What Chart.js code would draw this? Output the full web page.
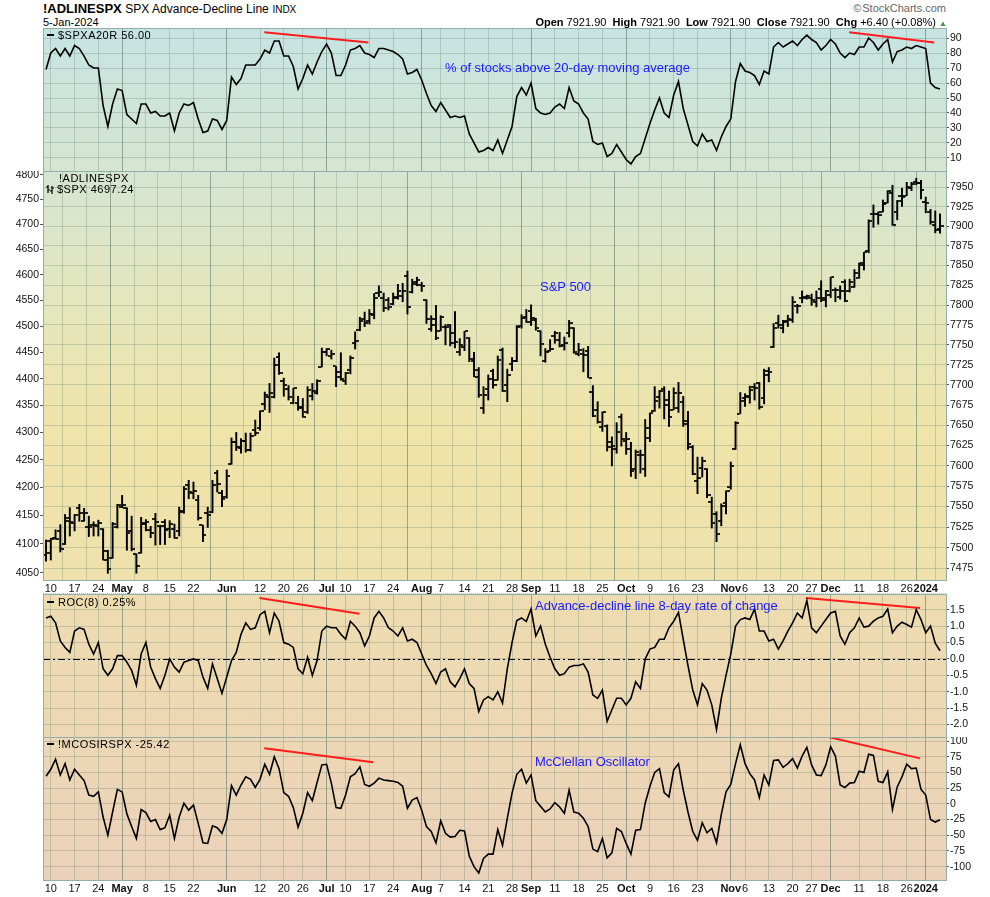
<!DOCTYPE html>
<html>
<head>
<meta charset="utf-8">
<title>!ADLINESPX</title>
<script src="https://cdn.jsdelivr.net/npm/chart.js@4.4.1/dist/chart.umd.min.js"></script>
<style>
  body { margin: 0; background: #fff; font-family: 'Liberation Sans', Arial, sans-serif; color: #000; }
  #page { position: relative; width: 990px; height: 897px; overflow: hidden; }
  .abs { position: absolute; white-space: nowrap; }
  #bg { left: 43px; top: 28px; width: 903px; height: 852px;
        background: linear-gradient(to bottom, #c6e4e2 0px, #d6e5d1 143px, #e4e6bd 272px, #efe4a9 400px,
                    #efe1ac 552px, #eedcb0 566px, #edd7b4 709px, #ebd1ba 852px); }
  #strip { left: 43px; top: 580px; width: 903px; height: 14px; background: #fff;
           border-top: 1px dotted #b9c6c6; border-bottom: 1px dotted #b9c6c6; box-sizing: border-box; }
  canvas { position: absolute; left: 0; }
  .panel { position: absolute; left: 43px; width: 904px; border: 1px solid #93adac; box-sizing: border-box; }
  .note { color: #1a1aff; font-size: 13px; line-height: 15px; }
  .leg { font-size: 11px; line-height: 12px; letter-spacing: 0.5px; }
  .dash { display: inline-block; width: 7px; height: 2px; background: #000; vertical-align: 3px; margin-right: 4px; }
</style>
</head>
<body>
<div id="page">
  <div id="bg" class="abs"></div>
  <div id="strip" class="abs"></div>

  <canvas id="cA" width="990" height="143" style="top:28px"></canvas>
  <canvas id="cB" width="990" height="424" style="top:171px"></canvas>
  <canvas id="cC" width="990" height="143" style="top:594px"></canvas>
  <canvas id="cD" width="990" height="160" style="top:737px"></canvas>

  <div class="panel" style="top:28px;height:144px"></div>
  <div class="panel" style="top:171px;height:410px"></div>
  <div class="panel" style="top:594px;height:144px"></div>
  <div class="panel" style="top:737px;height:144px"></div>

  <!-- header -->
  <div class="abs" style="left:43px;top:1px;font-size:13px;line-height:15px;font-weight:bold">!ADLINESPX
    <span style="font-weight:normal;font-size:12px">SPX Advance-Decline Line</span>
    <span style="font-weight:normal;font-size:10px">INDX</span></div>
  <div class="abs" style="left:43px;top:16px;font-size:11px;line-height:12px">5-Jan-2024</div>
  <div class="abs" style="right:44px;top:2px;font-size:11px;line-height:12px;color:#666">&#169;&#8202;StockCharts.com</div>
  <div class="abs" style="right:43px;top:16px;font-size:11px;line-height:12px">
    <b>Open</b> 7921.90&nbsp; <b>High</b> 7921.90&nbsp; <b>Low</b> 7921.90&nbsp; <b>Close</b> 7921.90&nbsp; <b>Chg</b> +6.40 (+0.08%)
    <span style="color:#3a9a3a;font-size:8px">&#9650;</span></div>

  <!-- panel legends -->
  <div class="abs leg" style="left:47px;top:29px"><span class="dash"></span>$SPXA20R 56.00</div>
  <div class="abs leg" style="left:59px;top:172px">!ADLINESPX</div>
  <div class="abs leg" style="left:46px;top:183px"><svg width="9" height="10" style="vertical-align:-1px;margin-right:2px"><path d="M2 1V9M0 3H2M2 6H4M6 2V10M4 7H6M6 4H8" stroke="#000" stroke-width="1.2" fill="none"/></svg>$SPX 4697.24</div>
  <div class="abs leg" style="left:47px;top:596px"><span class="dash"></span>ROC(8) 0.25%</div>
  <div class="abs leg" style="left:47px;top:738px"><span class="dash"></span>!MCOSIRSPX -25.42</div>

  <!-- annotations -->
  <div class="abs note" style="left:445px;top:60px">% of stocks above 20-day moving average</div>
  <div class="abs note" style="left:540px;top:279px">S&amp;P 500</div>
  <div class="abs note" style="left:535px;top:598px">Advance-decline line 8-day rate of change</div>
  <div class="abs note" style="left:535px;top:754px">McClellan Oscillator</div>
</div>

<script>
// trading days, Apr 6 2023 .. Jan 5 2024
const tradingMonths = [
  [4,  [6,10,11,12,13,14,17,18,19,20,21,24,25,26,27,28]],
  [5,  [1,2,3,4,5,8,9,10,11,12,15,16,17,18,19,22,23,24,25,26,30,31]],
  [6,  [1,2,5,6,7,8,9,12,13,14,15,16,20,21,22,23,26,27,28,29,30]],
  [7,  [3,5,6,7,10,11,12,13,14,17,18,19,20,21,24,25,26,27,28,31]],
  [8,  [1,2,3,4,7,8,9,10,11,14,15,16,17,18,21,22,23,24,25,28,29,30,31]],
  [9,  [1,5,6,7,8,11,12,13,14,15,18,19,20,21,22,25,26,27,28,29]],
  [10, [2,3,4,5,6,9,10,11,12,13,16,17,18,19,20,23,24,25,26,27,30,31]],
  [11, [1,2,3,6,7,8,9,10,13,14,15,16,17,20,21,22,24,27,28,29,30]],
  [12, [1,4,5,6,7,8,11,12,13,14,15,18,19,20,21,22,26,27,28,29]],
  [1,  [2,3,4,5]]
];
const days = tradingMonths.flatMap(([m, ds]) => ds.map(d => m + '/' + d));

const xTickDates = ['4/10','4/17','4/24','5/1','5/8','5/15','5/22','6/1','6/12','6/20','6/26','7/3','7/10','7/17',
  '7/24','8/1','8/7','8/14','8/21','8/28','9/1','9/11','9/18','9/25','10/2','10/9','10/16','10/23','11/1','11/6',
  '11/13','11/20','11/27','12/1','12/11','12/18','12/26','1/2'];
const xTickLabels = ['10','17','24','May','8','15','22','Jun','12','20','26','Jul','10','17',
  '24','Aug','7','14','21','28','Sep','11','18','25','Oct','9','16','23','Nov','6',
  '13','20','27','Dec','11','18','26','2024'];

// $SPXA20R - % of stocks above 20-day MA
const a20 = [69,80,83,78,83,78,85,83,78,72, 70,70,45,31,46,56,55,39,36,33,
  46,46,40,41,38,38,40,28,40,46, 45,47,36,27,28,36,35,29,35,64,
  59,63,72,72,72,76,82,80,88,88, 78,78,71,56,63,72,66,74,81,86,
  80,65,65,72,82,83,85,80,79,77, 83,83,82,81,79,76,66,67,69,62,
  53,45,41,47,42,37,38,37,38,26, 20,14,15,17,15,22,13,22,31,51,
  57,52,60,43,40,39,40,44,46,43, 57,48,46,40,36,21,19,20,11,13,
  19,14,9,6,11,13,23,33,42,50, 40,37,52,61,43,32,21,18,26,21,
  22,15,24,31,36,61,73,68,67,65, 59,68,66,84,87,84,86,88,85,89,
  92,89,87,82,85,89,86,80,77,80, 79,84,84,90,87,82,86,89,74,81,
  82,84,83,85,84,83,60,57,56];

// ROC(8) of the advance-decline line, %
const roc = [1.25,1.3,1.1,0.55,0.35,0.2,0.85,0.95,0.9,0.45, 0.15,0.5,-0.3,-0.5,-0.3,0.1,0.1,-0.1,-0.35,-0.8,
  0.15,0.5,-0.25,-0.6,-0.9,-0.5,0,-0.25,-0.4,-0.1, -0.05,0,-0.05,-0.55,-0.9,-0.15,-0.6,-1.05,-0.55,-0.05,
  0.2,0.75,1.1,0.9,0.95,1.35,1.45,0.8,1.4,1.15, 0.5,0.45,0.35,-0.3,-0.45,0.05,-0.5,-0.05,0.85,1.0,
  0.95,0.95,0.75,0.6,1.15,1.0,0.8,0.4,0.7,1.25, 1.45,1.25,0.95,0.85,0.7,0.95,0.55,0.6,0.5,0.15,
  -0.2,-0.45,-0.75,-0.4,-0.3,-0.7,-0.85,-0.6,-0.3,-0.75, -0.9,-1.6,-1.25,-1.15,-1.25,-1.0,-1.35,-0.3,0.5,1.17,
  1.25,1.14,1.52,0.7,1.0,0.45,0.05,-0.3,-0.5,-0.45, -0.25,-0.2,-0.2,-0.15,-0.4,-1.1,-1.2,-0.95,-1.9,-1.55,
  -1.2,-1.2,-1.4,-1.2,-0.7,-0.9,0.0,0.3,0.35,0.6, 0.6,0.95,1.15,1.42,0.6,-0.2,-0.95,-1.4,-0.75,-0.95,
  -1.4,-2.15,-1.2,-0.5,0.15,1.0,1.2,1.25,1.2,1.52, 0.85,0.85,0.55,0.6,0.3,0.55,0.85,1.1,1.4,1.25,
  1.78,0.95,0.8,1.0,1.2,1.4,1.45,0.7,0.45,0.8, 0.95,1.25,0.97,1.0,1.15,1.25,1.3,1.52,0.8,1.0,
  1.12,1.05,0.97,1.5,1.2,0.8,1.0,0.48,0.25];

// !MCOSIRSPX - McClellan Oscillator
const mco = [44,55,71,46,64,38,55,46,37,14, 12,19,-21,-50,-13,23,19,-16,-36,-55,
  -9,-14,-28,-25,-41,-38,-18,-55,-21,1, -10,-2,-31,-62,-63,-35,-38,-47,-25,29,
  14,30,43,39,26,39,63,47,75,56, 18,12,-6,-37,-15,18,5,34,62,63,
  33,-6,-7,14,43,48,59,31,28,33, 41,38,37,36,34,28,-7,6,10,-10,
  -36,-44,-62,-27,-47,-53,-52,-42,-43,-83, -100,-110,-87,-80,-80,-41,-66,-23,17,47,
  55,33,46,5,-4,-13,-8,2,-5,-15, 22,-13,-15,-23,-36,-72,-76,-55,-86,-78,
  -39,-44,-63,-80,-42,-41,1,28,50,56, 18,11,54,64,22,-13,-44,-58,-30,-46,
  -39,-62,-17,19,31,64,94,64,48,38, 10,46,30,69,70,58,64,72,57,76,
  90,62,46,45,62,91,76,30,26,33, 34,52,50,79,77,36,34,51,-9,27,
  43,63,56,57,23,14,-25,-29,-25.42];

// $SPX daily bars
const spxOpen = [
  4081,4085,4110,4122,4100,4140,4137,4164,4140,4130,4133,4132,4127,4088,4075,4129,
  4166,4164,4123,4082,4084,4137,4125,4144,4132,4139,4126,4127,4123,4157,4204,4191,4177,4133,4155,4156,4226,4191,
  4184,4242,4282,4271,4285,4268,4305,4309,4352,4366,4366,4440,4396,4381,4355,4354,4345,4337,4367,4374,4422,
  4450,4443,4423,4404,4395,4416,4467,4492,4514,4509,4522,4565,4554,4550,4543,4556,4559,4598,4566,4585,
  4579,4550,4495,4513,4491,4498,4502,4487,4450,4459,4478,4434,4416,4345,4380,4415,4397,4455,4389,4427,4433,4501,4518,
  4530,4511,4490,4434,4452,4481,4473,4463,4487,4497,4446,4446,4453,4375,4342,4310,4312,4283,4269,4328,
  4284,4270,4234,4259,4234,4290,4339,4366,4380,4360,4342,4346,4357,4321,4273,4211,4236,4233,4175,4153,4140,4172,
  4201,4269,4335,4364,4367,4384,4391,4364,4407,4459,4505,4497,4510,4511,4539,4554,4555,4555,4546,4572,4554,
  4560,4569,4557,4586,4568,4576,4593,4618,4646,4721,4720,4725,4743,4764,4725,4758,4758,4773,4786,4783,
  4745,4725,4698,4690];
const spxHigh = [
  4107,4110,4125,4134,4152,4164,4152,4170,4163,4149,4139,4142,4127,4089,4138,4170,
  4186,4164,4149,4083,4147,4143,4131,4154,4133,4143,4141,4135,4165,4202,4213,4210,4186,4133,4165,4213,4231,4195,
  4232,4290,4300,4289,4299,4299,4323,4340,4375,4391,4439,4449,4401,4387,4382,4367,4363,4385,4391,4398,4458,
  4457,4454,4423,4449,4412,4443,4489,4517,4527,4532,4563,4578,4564,4555,4564,4581,4583,4607,4591,4595,
  4585,4551,4520,4540,4520,4503,4503,4528,4476,4490,4478,4450,4421,4385,4407,4418,4443,4458,4418,4440,4501,4522,4532,
  4541,4515,4491,4457,4474,4490,4488,4479,4511,4497,4467,4457,4461,4387,4357,4338,4314,4292,4318,4334,
  4300,4282,4268,4268,4324,4336,4385,4378,4385,4377,4383,4393,4367,4339,4276,4255,4255,4234,4183,4157,4171,4194,
  4246,4320,4374,4372,4386,4391,4393,4418,4421,4505,4521,4511,4521,4557,4542,4568,4560,4562,4568,4588,4569,
  4595,4574,4578,4590,4591,4610,4623,4644,4709,4739,4725,4749,4768,4779,4748,4773,4785,4785,4793,4789,
  4755,4730,4727,4721];
const spxLow = [
  4070,4072,4108,4086,4099,4114,4123,4140,4140,4113,4114,4114,4072,4049,4075,4128,
  4164,4089,4088,4049,4084,4123,4111,4098,4099,4099,4111,4110,4114,4154,4180,4180,4142,4104,4129,4155,4192,4166,
  4181,4242,4267,4262,4264,4266,4294,4304,4342,4337,4364,4408,4367,4360,4353,4341,4328,4335,4360,4371,4422,
  4443,4437,4385,4397,4389,4409,4456,4491,4499,4504,4514,4557,4528,4531,4541,4552,4547,4523,4564,4578,
  4567,4505,4490,4474,4491,4464,4462,4458,4444,4453,4432,4404,4365,4335,4360,4382,4397,4376,4357,4415,4432,4496,4507,
  4501,4492,4443,4431,4452,4467,4460,4454,4479,4448,4443,4413,4402,4329,4317,4302,4266,4239,4262,4275,
  4260,4220,4216,4226,4220,4283,4339,4345,4325,4311,4342,4337,4311,4269,4223,4189,4219,4182,4128,4104,4132,4153,
  4197,4269,4335,4348,4354,4360,4343,4353,4394,4459,4496,4487,4499,4507,4525,4545,4552,4540,4537,4547,4537,
  4555,4547,4552,4547,4566,4575,4593,4609,4643,4694,4700,4725,4743,4698,4709,4736,4758,4768,4780,4751,
  4723,4700,4683,4682];
const spxClose = [
  4105,4109,4109,4092,4146,4138,4151,4155,4155,4130,4134,4137,4072,4056,4135,4169,
  4168,4120,4091,4061,4136,4138,4119,4138,4131,4124,4136,4110,4159,4198,4192,4193,4146,4115,4151,4205,4206,4180,
  4221,4282,4274,4284,4268,4294,4299,4339,4369,4373,4426,4410,4389,4366,4382,4348,4329,4378,4377,4396,4450,
  4456,4447,4412,4399,4410,4439,4472,4510,4505,4523,4555,4566,4535,4536,4555,4567,4567,4537,4582,4589,
  4577,4513,4502,4478,4518,4499,4468,4469,4464,4490,4438,4404,4370,4370,4400,4388,4436,4376,4406,4433,4498,4515,4508,
  4516,4497,4465,4451,4457,4487,4462,4467,4505,4450,4454,4444,4402,4330,4320,4337,4274,4275,4300,4288,
  4288,4229,4264,4258,4309,4336,4358,4377,4350,4328,4374,4373,4315,4278,4224,4217,4248,4187,4137,4117,4167,4194,
  4238,4318,4358,4366,4378,4383,4347,4415,4412,4496,4503,4508,4514,4547,4538,4557,4559,4550,4555,4551,4568,
  4595,4570,4567,4549,4586,4604,4622,4644,4707,4720,4719,4741,4768,4698,4747,4755,4775,4782,4783,4770,
  4743,4705,4689,4697.24];

// red divergence lines: [trading-day index, value]
const a20Trends = [[[45.9, 93.8], [67.8, 87.1]], [[168.9, 93.8], [186.8, 87.1]]];
const rocTrends = [[[44.9, 1.86], [65.9, 1.38]], [[159.8, 1.86], [183.8, 1.55]]];
const mcoTrends = [[[45.9, 88.4], [68.8, 66.1]], [[162.8, 109.5], [183.8, 72.4]]];

// axis ticks
const a20Ticks = [10, 20, 30, 40, 50, 60, 70, 80, 90];
const spxTicks = [4050, 4100, 4150, 4200, 4250, 4300, 4350, 4400, 4450, 4500, 4550, 4600, 4650, 4700, 4750, 4800];
const adlTicks = [7475, 7500, 7525, 7550, 7575, 7600, 7625, 7650, 7675, 7700, 7725, 7750, 7775, 7800, 7825,
  7850, 7875, 7900, 7925, 7950];
const rocTicks = [-2, -1.5, -1, -0.5, 0, 0.5, 1, 1.5];
const mcoTicks = [-100, -75, -50, -25, 0, 25, 50, 75, 100];

const FONT = "'Liberation Sans', Arial, sans-serif";
const GRID = 'rgba(90,125,110,0.28)';
const GRID_MONTH = 'rgba(85,115,100,0.55)';
const X_MIN = -0.64, X_MAX = 189.26;

const xTickIdx = xTickDates.map(d => days.indexOf(d));
const boldTick = xTickLabels.map(s => !/^\d{1,2}$/.test(s));

function xAxis(labelHeight) {
  return {
    type: 'linear', min: X_MIN, max: X_MAX, offset: false,
    afterBuildTicks: s => { s.ticks = xTickIdx.map(v => ({ value: v })); },
    grid: { color: c => boldTick[c.index] ? GRID_MONTH : GRID, drawTicks: false },
    border: { display: false },
    ticks: {
      display: labelHeight > 0, autoSkip: false, maxRotation: 0, minRotation: 0, padding: 2, color: '#111',
      font: c => ({ family: FONT, size: 11, weight: boldTick[c.index] ? 'bold' : 'normal' }),
      callback: (v, i) => xTickLabels[i]
    },
    afterFit: s => { s.height = labelHeight; s.paddingLeft = 0; s.paddingRight = 0; }
  };
}

function yAxis(pos, min, max, vals, fmt, opts = {}) {
  return Object.assign({
    position: pos, min: min, max: max,
    afterBuildTicks: s => { s.ticks = vals.map(v => ({ value: v })); },
    grid: { color: GRID, tickLength: 3, tickColor: '#555', drawOnChartArea: opts.grid !== false },
    border: { display: false },
    ticks: { padding: 1, color: '#111', autoSkip: false, font: { family: FONT, size: 10.5 }, callback: fmt },
    afterFit: s => { s.width = pos === 'left' ? 43 : 44; s.paddingTop = 0; s.paddingBottom = 0; }
  }, opts.extra || {});
}

function lineSet(values, axis) {
  return { type: 'line', data: values.map((v, i) => ({ x: i, y: v })), yAxisID: axis,
           borderColor: '#000', borderWidth: 1.6, pointRadius: 0, tension: 0 };
}
function trendSets(trends, axis) {
  return trends.map(t => ({ type: 'line', data: t.map(([x, y]) => ({ x: x, y: y })), yAxisID: axis,
           borderColor: '#ff1c1c', borderWidth: 2, pointRadius: 0, clip: 4 }));
}

const baseOptions = (padLeft) => ({
  responsive: false, animation: false, events: [],
  layout: { padding: { left: padLeft, right: 0, top: 0, bottom: 0 }, autoPadding: false },
  plugins: { legend: { display: false }, tooltip: { enabled: false } }
});

const zeroLine = {
  id: 'zeroLine',
  beforeDatasetsDraw(chart) {
    const y = chart.scales.y.getPixelForValue(0), a = chart.chartArea, g = chart.ctx;
    g.save(); g.strokeStyle = '#000'; g.lineWidth = 1; g.setLineDash([7, 3, 2, 3]);
    g.beginPath(); g.moveTo(a.left, Math.round(y) + 0.5); g.lineTo(a.right, Math.round(y) + 0.5); g.stroke();
    g.restore();
  }
};

// Panel A: % above 20-day MA
new Chart(document.getElementById('cA'), {
  type: 'line',
  data: { datasets: [lineSet(a20, 'y'), ...trendSets(a20Trends, 'y')] },
  options: Object.assign(baseOptions(43), {
    scales: { x: xAxis(0), y: yAxis('right', 1.3, 96.7, a20Ticks, v => v) }
  })
});

// Panel B: SPX bars, with A-D line scale on the right
function tickImg(side) {
  const c = document.createElement('canvas'); c.width = 7; c.height = 2;
  const g = c.getContext('2d'); g.fillStyle = 'rgba(0,0,0,0.85)'; g.fillRect(side < 0 ? 0 : 4, 0, 3, 2);
  return c;
}
new Chart(document.getElementById('cB'), {
  type: 'line',
  data: { datasets: [
    { type: 'bar', data: days.map((d, i) => ({ x: i, y: [spxLow[i], spxHigh[i]] })), yAxisID: 'ySpx',
      backgroundColor: '#000', borderWidth: 0, barThickness: 1.3 },
    { type: 'line', data: spxOpen.map((v, i) => ({ x: i, y: v })), yAxisID: 'ySpx', showLine: false,
      pointStyle: tickImg(-1), pointRadius: 3 },
    { type: 'line', data: spxClose.map((v, i) => ({ x: i, y: v })), yAxisID: 'ySpx', showLine: false,
      pointStyle: tickImg(1), pointRadius: 3 }
  ] },
  options: Object.assign(baseOptions(0), {
    scales: {
      x: xAxis(15),
      ySpx: yAxis('left', 4037.4, 4808.2, spxTicks, v => v, { grid: false, extra: { type: 'logarithmic' } }),
      yAdl: yAxis('right', 7460.9, 7971.0, adlTicks, v => v, { extra: { type: 'logarithmic' } })
    }
  })
});

// Panel C: ROC(8)
new Chart(document.getElementById('cC'), {
  type: 'line',
  data: { datasets: [lineSet(roc, 'y'), ...trendSets(rocTrends, 'y')] },
  options: Object.assign(baseOptions(43), {
    scales: { x: xAxis(0), y: yAxis('right', -2.38, 1.98, rocTicks, v => Number(v).toFixed(1)) }
  }),
  plugins: [zeroLine]
});

// Panel D: McClellan Oscillator
new Chart(document.getElementById('cD'), {
  type: 'line',
  data: { datasets: [lineSet(mco, 'y'), ...trendSets(mcoTrends, 'y')] },
  options: Object.assign(baseOptions(43), {
    scales: { x: xAxis(17), y: yAxis('right', -121.2, 106.4, mcoTicks, v => v) }
  })
});
</script>
</body>
</html>
